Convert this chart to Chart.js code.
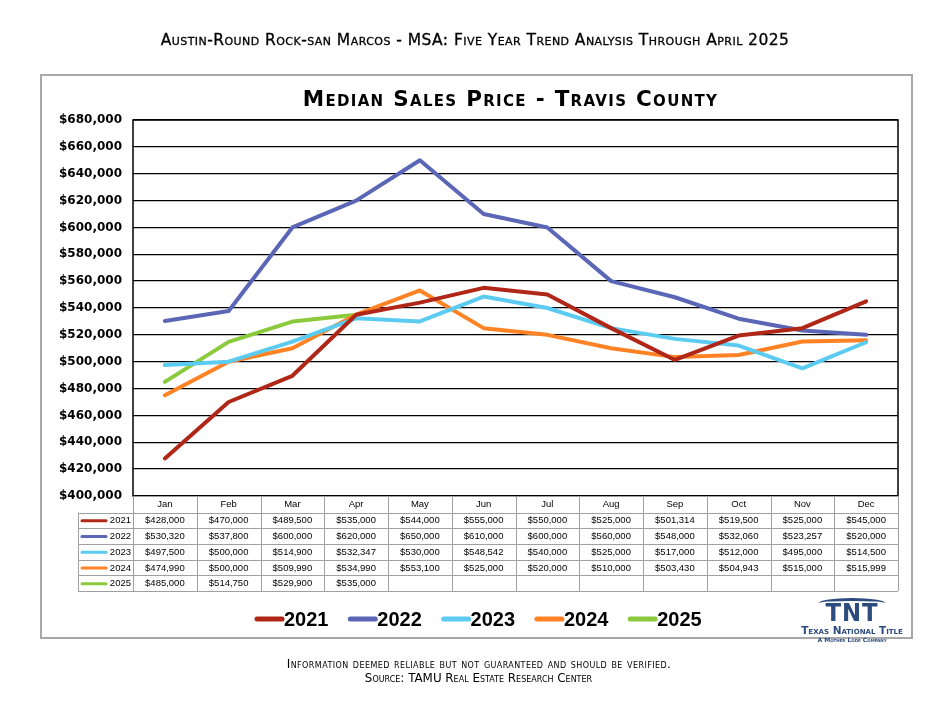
<!DOCTYPE html>
<html>
<head>
<meta charset="utf-8">
<script src="https://cdn.jsdelivr.net/npm/chart.js@4.4.1/dist/chart.umd.min.js"></script>
<style>
  html, body { margin: 0; padding: 0; background: #fff; }
  #wrap { position: relative; width: 941px; height: 708px; overflow: hidden; }
  #frame { position: absolute; left: 40px; top: 74px; width: 873px; height: 565px; box-sizing: border-box; border: 2px solid #a8a8a8; }
  canvas { position: absolute; left: 0; top: 0; }
  .t { position: absolute; white-space: nowrap; text-align: center; color: #000; }
  #head { left: 0; width: 950px; top: 31px; font-family: "DejaVu Sans", sans-serif; font-size: 15.5px; font-variant: small-caps; font-weight: normal; letter-spacing: 0.45px; -webkit-text-stroke: 0.3px #000; }
  #title { left: 0; width: 1021px; top: 86px; font-family: "DejaVu Sans", sans-serif; font-size: 21.5px; font-weight: bold; font-variant: small-caps; letter-spacing: 1.3px; }
  #foot1 { left: 0; width: 958px; top: 657px; font-family: "DejaVu Sans", sans-serif; font-size: 12px; font-variant: small-caps; letter-spacing: 0.42px; }
  #foot2 { left: 0; width: 957px; top: 671px; font-family: "DejaVu Sans", sans-serif; font-size: 11.9px; font-variant: small-caps; }
  #logo { position: absolute; left: 791px; top: 598px; width: 122px; text-align: center; color: #2c4b7e; }
  #logo .arc { margin: 0 auto; width: 66px; height: 5px; border-top: 3px solid #2c4b7e; border-radius: 50% 50% 0 0 / 100% 100% 0 0; box-sizing: border-box; }
  #logo .tnt { font-family: "DejaVu Sans", sans-serif; font-weight: bold; font-size: 24px; line-height: 20px; margin-top: 0px; letter-spacing: 1px; transform: scaleX(0.95); }
  #logo .tnt2 { font-family: "DejaVu Sans", sans-serif; font-weight: bold; font-size: 10.5px; font-variant: small-caps; line-height: 11px; margin-top: 2px; }
  #logo .tnt3 { font-family: "DejaVu Sans", sans-serif; font-weight: bold; font-size: 6px; font-variant: small-caps; line-height: 7px; }
</style>
</head>
<body>
<div id="wrap">
  <div id="frame"></div>
  <canvas id="c" width="941" height="708"></canvas>
  <div class="t" id="head">Austin-Round Rock-san Marcos - MSA: Five Year Trend Analysis Through April 2025</div>
  <div class="t" id="title">Median Sales Price - Travis County</div>
  <div class="t" id="foot1">Information deemed reliable but not guaranteed and should be verified.</div>
  <div class="t" id="foot2">Source: TAMU Real Estate Research Center</div>
  <div id="logo"><div class="arc"></div><div class="tnt">TNT</div><div class="tnt2">Texas National Title</div><div class="tnt3">A Mother Lode Company</div></div>
</div>
<script>
const months = ['Jan','Feb','Mar','Apr','May','Jun','Jul','Aug','Sep','Oct','Nov','Dec'];
const years = ['2021','2022','2023','2024','2025'];
const v2021 = [428000,470000,489500,535000,544000,555000,550000,525000,501314,519500,525000,545000];
const v2022 = [530320,537800,600000,620000,650000,610000,600000,560000,548000,532060,523257,520000];
const v2023 = [497500,500000,514900,532347,530000,548542,540000,525000,517000,512000,495000,514500];
const v2024 = [474990,500000,509990,534990,553100,525000,520000,510000,503430,504943,515000,515999];
const v2025 = [485000,514750,529900,535000,null,null,null,null,null,null,null,null];
const yMin = 400000, yMax = 680000, yStep = 20000;
const colors = ['#b02718','#5b66b6','#5ccbf1','#ff8224','#8cca3d'];

const seriesValues = [v2021, v2022, v2023, v2024, v2025];
const fmt = v => '$' + v.toLocaleString('en-US');

const tablePlugin = {
  id: 'tableLegend',
  afterDraw(chart) {
    const ctx = chart.ctx;
    const ca = chart.chartArea;
    const xs = chart.scales.x;
    const colW = (ca.right - ca.left) / months.length;
    ctx.save();
    ctx.strokeStyle = '#000';
    ctx.lineWidth = 1.5;
    ctx.strokeRect(ca.left, ca.top, ca.right - ca.left, ca.bottom - ca.top);

    const headTop = ca.bottom, headH = 16.5, rowH = 15.7;
    const rowsTop = headTop + headH;
    const tableBottom = rowsTop + rowH * years.length;
    const legLeft = 78;
    ctx.strokeStyle = '#a0a0a0';
    ctx.lineWidth = 1;
    ctx.beginPath();
    ctx.moveTo(ca.left, headTop + 0.5); ctx.lineTo(ca.right, headTop + 0.5);
    for (let r = 0; r <= years.length; r++) {
      const y = Math.round(rowsTop + r * rowH) + 0.5;
      ctx.moveTo(legLeft, y); ctx.lineTo(ca.right, y);
    }
    for (let i = 0; i <= months.length; i++) {
      const x = Math.round(ca.left + i * colW) + 0.5;
      ctx.moveTo(x, headTop); ctx.lineTo(x, tableBottom);
    }
    ctx.moveTo(legLeft + 0.5, rowsTop); ctx.lineTo(legLeft + 0.5, tableBottom);
    ctx.stroke();

    ctx.fillStyle = '#000';
    ctx.textAlign = 'center';
    ctx.textBaseline = 'middle';
    ctx.font = '9.5px "Liberation Sans", Arial, sans-serif';
    months.forEach((m, i) => {
      ctx.fillText(m, xs.getPixelForValue(i), headTop + headH / 2 + 0.5);
    });
    seriesValues.forEach((vals, r) => {
      const yc = rowsTop + r * rowH + rowH / 2 + 0.5;
      vals.forEach((v, i) => {
        if (v !== null) ctx.fillText(fmt(v), xs.getPixelForValue(i), yc);
      });
      ctx.strokeStyle = chart.data.datasets[r].borderColor;
      ctx.lineWidth = 3;
      ctx.lineCap = 'round';
      ctx.beginPath();
      ctx.moveTo(legLeft + 4, yc); ctx.lineTo(legLeft + 28, yc);
      ctx.stroke();
      ctx.textAlign = 'right';
      ctx.fillText(years[r], ca.left - 2, yc);
      ctx.textAlign = 'center';
    });

    ctx.font = 'bold 20px "Liberation Sans", Arial, sans-serif';
    ctx.textAlign = 'left';
    const legY = 619;
    let lx = 257;
    chart.data.datasets.forEach((ds, i) => {
      ctx.strokeStyle = ds.borderColor;
      ctx.lineWidth = 5;
      ctx.lineCap = 'round';
      ctx.beginPath();
      ctx.moveTo(lx, legY); ctx.lineTo(lx + 25, legY);
      ctx.stroke();
      ctx.fillStyle = '#000';
      ctx.fillText(ds.label, lx + 27, legY + 1);
      lx += 93.3;
    });
    ctx.restore();
  }
};

new Chart(document.getElementById('c'), {
  type: 'line',
  data: {
    labels: months,
    datasets: years.map((y, i) => ({
      label: y,
      data: seriesValues[i],
      borderColor: colors[i],
      backgroundColor: colors[i],
      borderWidth: 4,
      pointRadius: 0,
      tension: 0,
      borderCapStyle: 'round',
      borderJoinStyle: 'round',
      spanGaps: false
    }))
  },
  options: {
    responsive: false,
    animation: false,
    devicePixelRatio: 1,
    layout: { padding: { left: 40, top: 120, right: 43, bottom: 212 } },
    plugins: { legend: { display: false }, tooltip: { enabled: false }, title: { display: false } },
    scales: {
      x: { display: false, offset: true },
      y: {
        min: yMin, max: yMax,
        border: { display: false },
        grid: { color: '#000', lineWidth: 1.3, drawTicks: false },
        ticks: {
          stepSize: yStep,
          padding: 11,
          color: '#000',
          font: { family: '"DejaVu Sans", sans-serif', weight: 'bold', size: 12 },
          callback: v => fmt(v)
        },
        afterFit(scale) { scale.width = 93; }
      }
    }
  },
  plugins: [tablePlugin]
});
</script>
</body>
</html>
